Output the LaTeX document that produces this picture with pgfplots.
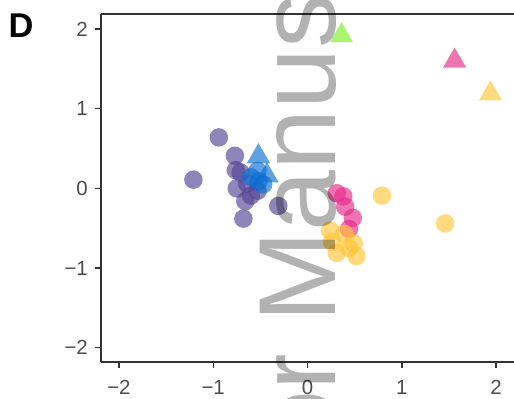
\documentclass[border=0pt]{standalone}
\usepackage{fontspec}
\setmainfont{Liberation Sans}
\usepackage{pgfplots}
\pgfplotsset{compat=1.18}

\definecolor{cpurple}{RGB}{82,67,147}
\definecolor{cblue}{RGB}{10,110,210}
\definecolor{cpink}{RGB}{231,41,138}
\definecolor{cyellow}{RGB}{255,196,55}
\definecolor{cgreen}{RGB}{123,240,34}
\definecolor{axgray}{RGB}{51,51,51}
\definecolor{txtgray}{RGB}{77,77,77}
\newcommand{\tickfont}{\fontsize{20.5}{21}\selectfont}

\begin{document}
\begin{tikzpicture}[x=1bp,y=1bp]
\path[use as bounding box] (0,0) rectangle (514,398);
\clip (0,0) rectangle (514,398);
\begin{axis}[
  at={(101bp,36bp)}, anchor=south west, scale only axis,
  width=413bp, height=348bp,
  xmin=-2.19, xmax=2.19, ymin=-2.18, ymax=2.19,
  axis x line*=bottom, axis y line*=left,
  axis line style={axgray, line width=1.4bp},
  tick align=outside, major tick length=6bp,
  tick style={axgray, line width=1.4bp},
  xtick={-2,-1,0,1,2}, ytick={-2,-1,0,1,2},
  xticklabels={{\tickfont −2},{\tickfont −1},{\tickfont 0},{\tickfont 1},{\tickfont 2}},
  yticklabels={{\tickfont −2},{\tickfont −1},{\tickfont 0},{\tickfont 1},{\tickfont 2}},
  tick label style={text=txtgray, inner sep=0pt},
  xticklabel style={yshift=-12bp},
  yticklabel style={xshift=-7bp},
  clip=false,
]
\draw[axgray, line width=1.4bp] (rel axis cs:0,1) -- (rel axis cs:1,1);
% purple circles
\addplot[only marks, color=cpurple, mark=*, mark size=9.3, mark options={fill=cpurple, fill opacity=0.65, draw opacity=0}] coordinates {
(-0.94,0.64) (-1.21,0.11) (-0.77,0.41) (-0.76,0.23) (-0.71,0.20) (-0.75,0.00)
(-0.64,0.06) (-0.66,-0.16) (-0.60,-0.09) (-0.68,-0.38) (-0.53,-0.03) (-0.31,-0.22)
};
% blue circles
\addplot[only marks, color=cblue, mark=*, mark size=9.3, mark options={fill=cblue, fill opacity=0.65, draw opacity=0}] coordinates {
(-0.60,0.14) (-0.52,0.09) (-0.47,0.05) (-0.53,0.22)
};
% blue triangles
\addplot[only marks, color=cblue, mark=triangle*, mark size=13.5, mark options={fill=cblue, fill opacity=0.65, draw opacity=0}] coordinates {
(-0.52,0.40) (-0.43,0.16)
};
% pink circles
\addplot[only marks, color=cpink, mark=*, mark size=9.3, mark options={fill=cpink, fill opacity=0.65, draw opacity=0}] coordinates {
(0.31,-0.06) (0.38,-0.10) (0.40,-0.23) (0.48,-0.37) (0.44,-0.51)
};
% yellow circles
\addplot[only marks, color=cyellow, mark=*, mark size=9.3, mark options={fill=cyellow, fill opacity=0.65, draw opacity=0}] coordinates {
(0.79,-0.09) (1.46,-0.44) (0.24,-0.53) (0.26,-0.67) (0.31,-0.81) (0.39,-0.57)
(0.44,-0.75) (0.49,-0.69) (0.52,-0.85)
};
% triangles
\addplot[only marks, color=cpink, mark=triangle*, mark size=13.5, mark options={fill=cpink, fill opacity=0.65, draw opacity=0}] coordinates {(1.56,1.60)};
\addplot[only marks, color=cyellow, mark=triangle*, mark size=13.5, mark options={fill=cyellow, fill opacity=0.65, draw opacity=0}] coordinates {(1.94,1.19)};
\addplot[only marks, color=cgreen, mark=triangle*, mark size=13.5, mark options={fill=cgreen, fill opacity=0.65, draw opacity=0}] coordinates {(0.36,1.92)};
\end{axis}
% watermark
\node[rotate=90, anchor=base west, inner sep=0, text=black, text opacity=0.3, font=\fontsize{110}{110}\selectfont] at (335,75) {Manuscript};
\node[rotate=90, anchor=base east, inner sep=0, text=black, text opacity=0.3, font=\fontsize{110}{110}\selectfont] at (335,44.4) {Author};
% panel label
\node[anchor=base west, inner sep=0, font=\bfseries\fontsize{34.5}{34.5}\selectfont] at (8.5,360.7) {D};
\end{tikzpicture}
\end{document}
